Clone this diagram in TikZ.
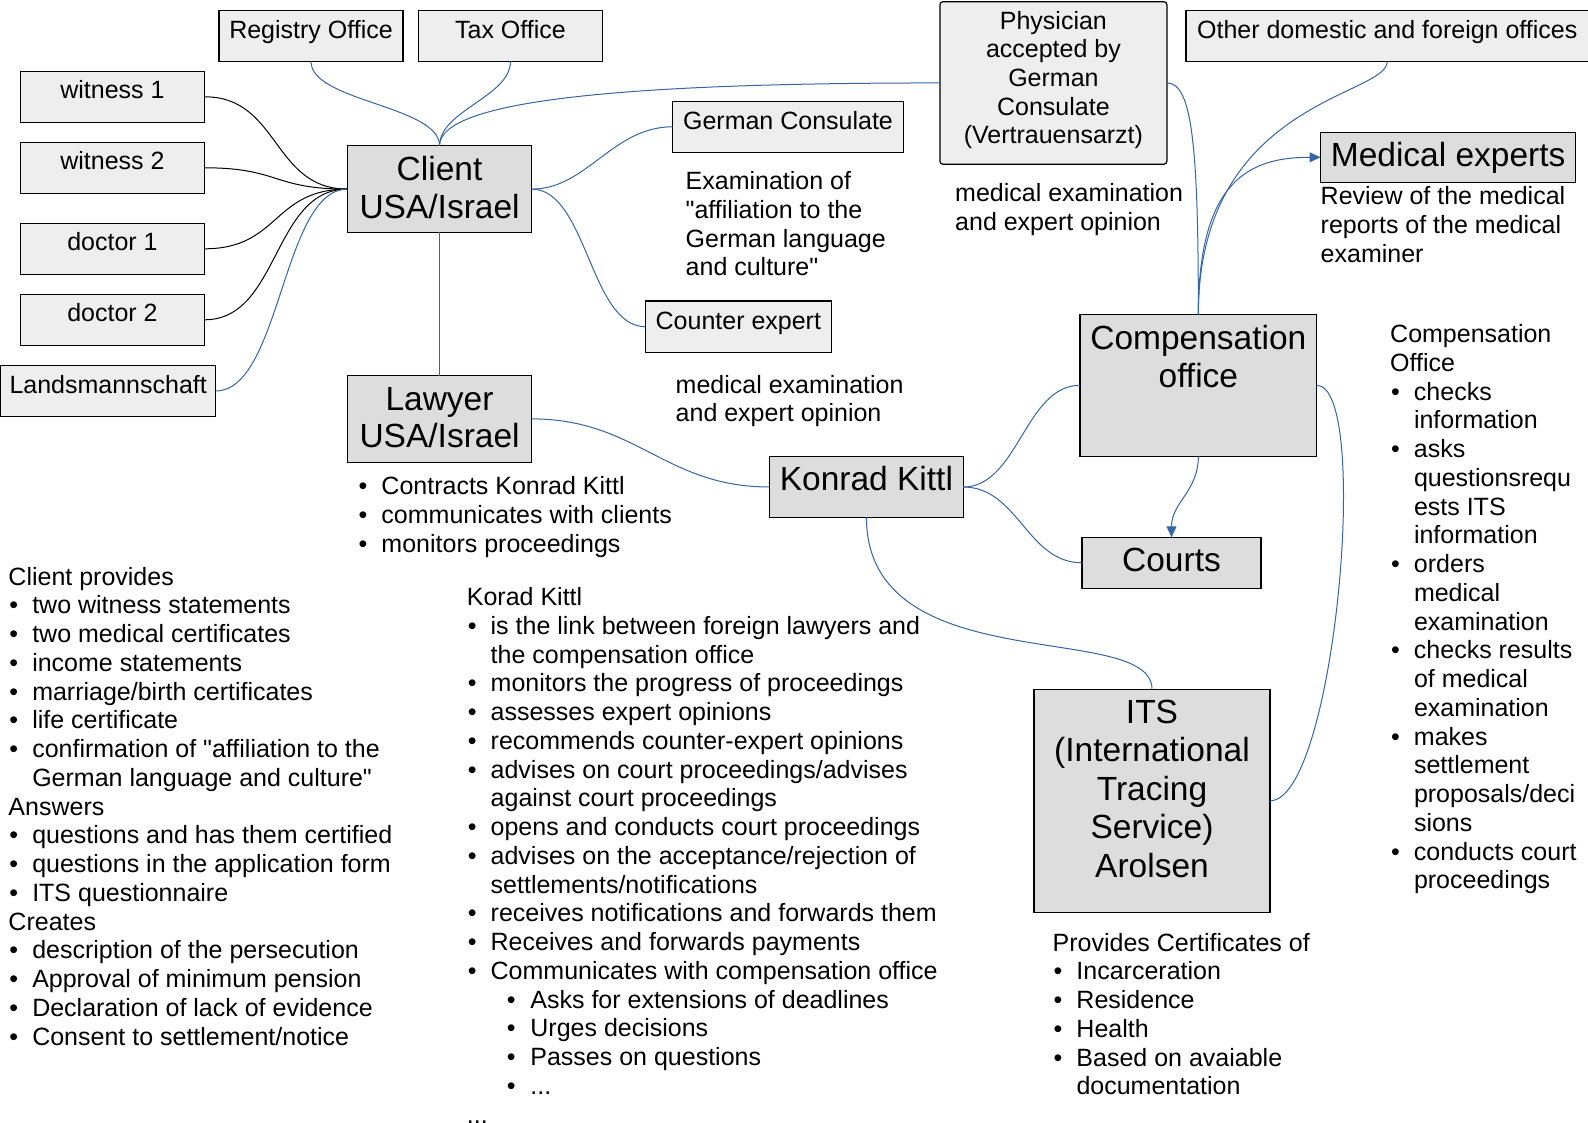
\documentclass[tikz,border=0pt]{standalone}
\usepackage{fontspec}
\setmainfont{Liberation Sans}[Ligatures=TeXOff]
\usetikzlibrary{arrows.meta}
\definecolor{connblue}{HTML}{3465A4}
\definecolor{boxlight}{HTML}{EEEEEE}
\definecolor{boxdark}{HTML}{DDDDDD}
\newcommand\bl{\makebox[23.8pt][l]{\hspace{1pt}•}}
\newcommand\hg{\hspace*{23.8pt}}
\newcommand\sbl{\hspace*{40pt}\makebox[23.5pt][l]{•}}
\newcommand\bxt[4]{\parbox[c][#2][t]{#1}{\centering\rule{0pt}{#3}#4\par}}
\begin{document}
\begin{tikzpicture}[x=1pt,y=-1pt,
  conn/.style={draw=connblue,line width=1pt},
  bconn/.style={draw=black,line width=1pt},
  lbox/.style={draw=black,fill=boxlight,line width=1.2pt,inner sep=0pt,outer sep=0pt,anchor=north west,font=\fontsize{25}{28.6}\selectfont},
  dbox/.style={lbox,fill=boxdark,font=\fontsize{33.5}{37.5}\selectfont},
  txt/.style={anchor=base west,inner sep=0pt,align=left,font=\fontsize{25}{28.75}\selectfont},
  tip/.style={-{Triangle[length=11pt,width=10pt]}}
]
\useasboundingbox (0,0) rectangle (1588,1123);

% boxes
\node[lbox] (reg) at (219,10.5) {\bxt{184pt}{51pt}{28.5pt}{Registry Office}};
\node[lbox] (tax) at (418.3,10.5) {\bxt{184.3pt}{51pt}{28.5pt}{Tax Office}};
\node[lbox] (w1) at (20.3,71.3) {\bxt{184.3pt}{51pt}{27pt}{witness 1}};
\node[lbox] (w2) at (20.3,142.3) {\bxt{184.3pt}{51pt}{27pt}{witness 2}};
\node[lbox] (d1) at (20.3,223.3) {\bxt{184.3pt}{51pt}{27pt}{doctor 1}};
\node[lbox] (d2) at (20.3,294.3) {\bxt{184.3pt}{51pt}{27pt}{doctor 2}};
\node[lbox] (lands) at (0.7,365.7) {\bxt{215pt}{50.6pt}{27.5pt}{Landsmannschaft}};
\node[dbox] (client) at (347.4,145.7) {\bxt{184.3pt}{86.8pt}{35.3pt}{Client\\USA/Israel}};
\node[dbox] (lawyer) at (347.4,375.5) {\bxt{184.3pt}{86.8pt}{34.5pt}{Lawyer\\USA/Israel}};
\node[lbox] (gc) at (672.5,101.3) {\bxt{231pt}{51pt}{28.7pt}{German Consulate}};
\node[lbox] (counter) at (645.2,301) {\bxt{186.3pt}{51.3pt}{28.3pt}{Counter expert}};
\node[lbox,rounded corners=3pt] (phys) at (939.9,1.7) {\bxt{227pt}{162.5pt}{27.6pt}{Physician\\accepted by\\German\\Consulate\\(Vertrauensarzt)}};
\node[lbox] (other) at (1186,10.5) {\bxt{402.5pt}{51pt}{28pt}{Other domestic and foreign offices}};
\node[dbox] (med) at (1320.5,132.3) {\bxt{255.3pt}{50pt}{34.4pt}{Medical experts}};
\node[dbox] (comp) at (1080,314.3) {\bxt{236.7pt}{142pt}{35.7pt}{Compensation\\office}};
\node[dbox] (konrad) at (769.7,456.7) {\bxt{193.5pt}{60.6pt}{34pt}{Konrad Kittl}};
\node[dbox] (courts) at (1082,537.3) {\bxt{179pt}{51pt}{34.4pt}{Courts}};
\node[dbox,font=\fontsize{33.5}{38.5}\selectfont] (its) at (1034,689.3) {\bxt{236pt}{223pt}{34pt}{ITS\\(International\\Tracing\\Service)\\Arolsen}};

% connectors
\draw[conn] (reg.south) .. controls +(0,40) and +(0,-40) .. (client.north);
\draw[conn] (tax.south) .. controls +(0,35) and +(0,-35) .. (client.north);
\draw[conn] (client.north) .. controls +(0,-45) and +(-320,0) .. (phys.west);
\draw[conn] (client.east) .. controls +(55,0) and +(-60,0) .. (gc.west);
\draw[conn] (client.east) .. controls +(55,0) and +(-55,0) .. (counter.west);
\draw[conn] (client.south) -- (lawyer.north);
\draw[bconn] (w1.east) .. controls +(75,0) and +(-75,0) .. (client.west);
\draw[bconn] (w2.east) .. controls +(75,0) and +(-75,0) .. (client.west);
\draw[bconn] (d1.east) .. controls +(75,0) and +(-75,0) .. (client.west);
\draw[bconn] (d2.east) .. controls +(75,0) and +(-75,0) .. (client.west);
\draw[conn] (lands.east) .. controls +(65,0) and +(-65,0) .. (client.west);
\draw[conn] (lawyer.east) .. controls +(105,0) and +(-105,0) .. (konrad.west);
\draw[conn] (konrad.east) .. controls +(55,0) and +(-55,0) .. (comp.west);
\draw[conn] (konrad.east) .. controls +(55,0) and +(-55,0) .. (courts.west);
\draw[conn] (konrad.south) .. controls +(0,165) and +(0,-70) .. (its.north);
\draw[conn] (phys.east) .. controls +(25,0) and +(0,-170) .. (comp.north);
\draw[conn] (other.south) .. controls +(0,35) and +(0,-214) .. (comp.north);
\draw[conn,tip] (comp.north) .. controls +(0,-135) and +(-70,0) .. (med.west);
\draw[conn,tip] (comp.south) .. controls +(0,35) and +(0,-35) .. (courts.north);
\draw[conn] (comp.east) .. controls +(55,0) and +(65,0) .. (its.east);

% texts (anchor = baseline of the last line)
\node[txt] (tExam) at (685.5,276) {Examination of\\"affiliation to the\\German language\\and culture"};
\node[txt] (tMedA) at (675.5,421.75) {medical examination\\and expert opinion};
\node[txt] (tMedB) at (955,230.75) {medical examination\\and expert opinion};
\node[txt] (tRev) at (1320.5,262.5) {Review of the medical\\reports of the medical\\examiner};
\node[txt] (tLaw) at (357.5,552) {\bl Contracts Konrad Kittl\\\bl communicates with clients\\\bl monitors proceedings};
\node[txt] (tClient) at (8.3,1045) {Client provides\\
\bl two witness statements\\
\bl two medical certificates\\
\bl income statements\\
\bl marriage/birth certificates\\
\bl life certificate\\
\bl confirmation of "affiliation to the\\
\hg German language and culture"\\
Answers\\
\bl questions and has them certified\\
\bl questions in the application form\\
\bl ITS questionnaire\\
Creates\\
\bl description of the persecution\\
\bl Approval of minimum pension\\
\bl Declaration of lack of evidence\\
\bl Consent to settlement/notice};
\node[txt] (tKorad) at (466.7,1123) {Korad Kittl\\
\bl is the link between foreign lawyers and\\
\hg the compensation office\\
\bl monitors the progress of proceedings\\
\bl assesses expert opinions\\
\bl recommends counter-expert opinions\\
\bl advises on court proceedings/advises\\
\hg against court proceedings\\
\bl opens and conducts court proceedings\\
\bl advises on the acceptance/rejection of\\
\hg settlements/notifications\\
\bl receives notifications and forwards them\\
\bl Receives and forwards payments\\
\bl Communicates with compensation office\\
\sbl Asks for extensions of deadlines\\
\sbl Urges decisions\\
\sbl Passes on questions\\
\sbl ...\\
...};
\node[txt] (tComp) at (1390,888.75) {Compensation\\
Office\\
\bl checks\\
\hg information\\
\bl asks\\
\hg questionsrequ\\
\hg ests ITS\\
\hg information\\
\bl orders\\
\hg medical\\
\hg examination\\
\bl checks results\\
\hg of medical\\
\hg examination\\
\bl makes\\
\hg settlement\\
\hg proposals/deci\\
\hg sions\\
\bl conducts court\\
\hg proceedings};
\node[txt] (tITS) at (1052.5,1094.75) {Provides Certificates of\\
\bl Incarceration\\
\bl Residence\\
\bl Health\\
\bl Based on avaiable\\
\hg documentation};
\end{tikzpicture}
\end{document}
